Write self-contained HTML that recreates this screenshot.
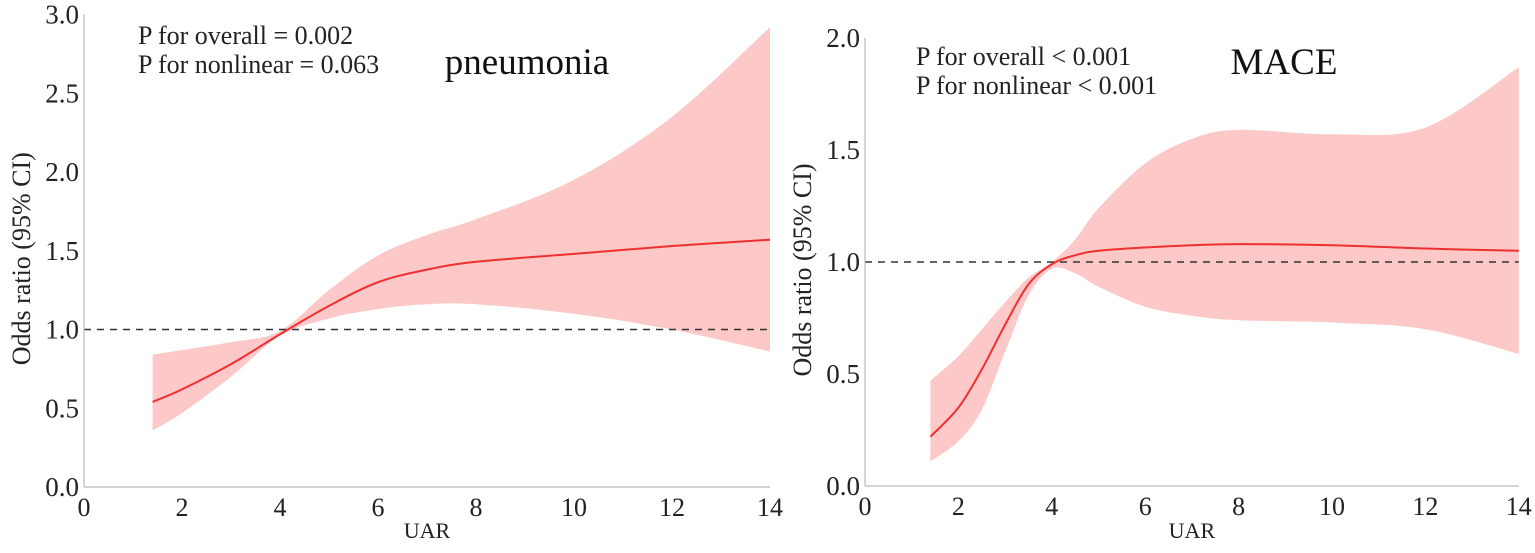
<!DOCTYPE html>
<html><head><meta charset="utf-8"><style>
body{margin:0;background:#fff}
svg{display:block;font-family:"Liberation Serif",serif}
</style></head><body>
<svg id="c" width="1535" height="553"></svg>
<script>
const xsL=[1.4,2,3,4,5,6,7,8,10,12,14];
const orL=[0.54,0.62,0.78,0.97,1.15,1.3,1.38,1.43,1.48,1.53,1.57];
const loL=[0.36,0.47,0.70,0.96,1.07,1.13,1.16,1.16,1.10,1.00,0.86];
const hiL=[0.84,0.87,0.92,0.99,1.25,1.47,1.60,1.70,1.95,2.35,2.92];
const xsR=[1.4,2,2.5,3,3.5,4,4.5,5,6,7,8,10,12,14];
const orR=[0.22,0.35,0.52,0.72,0.90,0.99,1.03,1.05,1.065,1.075,1.08,1.075,1.06,1.05];
const loR=[0.11,0.20,0.34,0.60,0.85,0.97,0.95,0.89,0.80,0.76,0.74,0.73,0.70,0.59];
const hiR=[0.47,0.58,0.70,0.82,0.93,1.00,1.10,1.24,1.44,1.55,1.59,1.57,1.60,1.87];
const xTicks=[0,2,4,6,8,10,12,14];
const yTicksL=[0,0.5,1,1.5,2,2.5,3];
const yTicksR=[0,0.5,1,1.5,2];
const NS="http://www.w3.org/2000/svg";
const svg=document.getElementById('c');
function el(t,a,p){const e=document.createElementNS(NS,t);for(const k in a)e.setAttribute(k,a[k]);(p||svg).appendChild(e);return e;}
function smooth(pts){let d=`M${pts[0][0]},${pts[0][1]}`;for(let i=0;i<pts.length-1;i++){const p0=pts[Math.max(0,i-1)],p1=pts[i],p2=pts[i+1],p3=pts[Math.min(pts.length-1,i+2)];const c1=[p1[0]+(p2[0]-p0[0])/6,p1[1]+(p2[1]-p0[1])/6],c2=[p2[0]-(p3[0]-p1[0])/6,p2[1]-(p3[1]-p1[1])/6];d+=` C${c1[0]},${c1[1]} ${c2[0]},${c2[1]} ${p2[0]},${p2[1]}`;}return d;}
function panel(cfg){
  const X=v=>cfg.x0+v*cfg.xs, Y=v=>cfg.y0-v*cfg.ys;
  const g=el('g',{});
  
  
  const up=cfg.xsA.map((x,i)=>[X(x),Y(cfg.hi[i])]);
  const lo=cfg.xsA.map((x,i)=>[X(x),Y(cfg.lo[i])]).reverse();
  let d=smooth(up)+` L${lo[0][0]},${lo[0][1]}`+smooth(lo).replace(/^M[^C]*/,' ')+' Z';
  const band=el('path',{d:d,fill:'#fcc8c8',stroke:'none'},g);
  
  
  const ref=el('line',{x1:X(0),x2:X(14),y1:Y(1),y2:Y(1),stroke:'#333','stroke-width':1.6,'stroke-dasharray':'7,6'},g);
  
  
  const ln=el('path',{d:smooth(cfg.xsA.map((x,i)=>[X(x),Y(cfg.or[i])])),fill:'none',stroke:'#f03030','stroke-width':2},g);
  
  
  el('line',{x1:X(0),x2:X(0),y1:Y(0),y2:Y(cfg.ymax),stroke:'#bbb','stroke-width':1.2},g);
  el('line',{x1:X(0),x2:X(14),y1:Y(0),y2:Y(0),stroke:'#bbb','stroke-width':1.2},g);
  xTicks.forEach(t=>{const tx=el('text',{x:X(t),y:Y(0)+29,'text-anchor':'middle','font-size':26,fill:'#222'},g);tx.textContent=t;
    });
  cfg.yt.forEach(t=>{const tx=el('text',{x:X(0)-5,y:Y(t)+9,'text-anchor':'end','font-size':27,fill:'#222'},g);tx.textContent=t.toFixed(1);
    });
  const xt=el('text',{x:X(7),y:538,'text-anchor':'middle','font-size':22,fill:'#222'},g);xt.textContent='UAR';
  
  const yt=el('text',{x:0,y:0,'text-anchor':'middle','font-size':26,fill:'#222',transform:`translate(${cfg.x0-54},${Y(cfg.ymax/2)+8}) rotate(-90)`},g);yt.textContent='Odds ratio (95% CI)';
  
  cfg.ann.forEach((s,i)=>{const tx=el('text',{x:cfg.annX,y:cfg.annY+i*29,'font-size':26,fill:'#222'},g);tx.textContent=s;
    });
  const tt=el('text',{x:cfg.tX,y:74,'text-anchor':'middle','font-size':37,fill:'#111'},g);tt.textContent=cfg.title;
  
}
panel({name:'pneumonia-panel',x0:84,xs:49,y0:487,ys:157.5,ymax:3,yt:yTicksL,xsA:xsL,or:orL,lo:loL,hi:hiL,annX:138,annY:44,ann:['P for overall = 0.002','P for nonlinear = 0.063'],tX:527,title:'pneumonia'});
panel({name:'mace-panel',x0:865,xs:46.7,y0:486,ys:224,ymax:2,yt:yTicksR,xsA:xsR,or:orR,lo:loR,hi:hiR,annX:916,annY:65,ann:['P for overall < 0.001','P for nonlinear < 0.001'],tX:1284,title:'MACE'});
</script>
</body></html>
